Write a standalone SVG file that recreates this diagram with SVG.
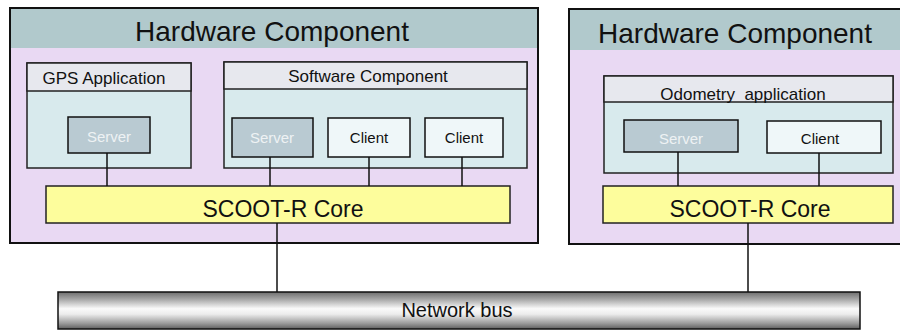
<svg xmlns="http://www.w3.org/2000/svg" width="900" height="330" viewBox="0 0 900 330">
<defs>
<linearGradient id="busGrad" x1="0" y1="0" x2="0" y2="1">
<stop offset="0" stop-color="#6e6e6e"/>
<stop offset="0.2" stop-color="#a8a8a8"/>
<stop offset="0.45" stop-color="#fafafa"/>
<stop offset="0.6" stop-color="#ececec"/>
<stop offset="0.85" stop-color="#9a9a9a"/>
<stop offset="1" stop-color="#5e5e5e"/>
</linearGradient>
<style>
text{font-family:"Liberation Sans",Arial,sans-serif;fill:#111;}
.hw{fill:#e9d9f3;stroke:#111;stroke-width:2;}
.hwhead{fill:#b1c9cc;}
.cont{fill:#d8eaed;stroke:#222;stroke-width:1.5;}
.conthead{fill:#e7e8ee;stroke:#222;stroke-width:1.5;}
.srv{fill:#b9cad2;stroke:#111;stroke-width:1.5;}
.cli{fill:#eff7f9;stroke:#111;stroke-width:1.5;}
.core{fill:#fdfd9c;stroke:#222;stroke-width:1.5;}
.bus{fill:url(#busGrad);stroke:#111;stroke-width:1.5;}
.t28{font-size:28px;}
.t17{font-size:17px;}
.t15{font-size:15px;}
.srvt{font-size:15px;fill:#eef2f4;}
.t23{font-size:23px;}
.t20{font-size:20px;}
.conn{stroke:#111;stroke-width:1.5;fill:none;}
</style>
</defs>

<g id="hw1">
<rect class="hw" x="10" y="8" width="528" height="235"/>
<rect class="hwhead" x="11" y="9" width="526" height="39"/>
<text class="t28" x="272" y="41" text-anchor="middle">Hardware Component</text>
</g>

<g id="hw2">
<rect class="hw" x="569" y="9" width="340" height="235"/>
<rect class="hwhead" x="570" y="10" width="338" height="40"/>
<text class="t28" x="735" y="43" text-anchor="middle">Hardware Component</text>
</g>

<g id="gps">
<rect class="cont" x="27" y="63" width="164" height="105"/>
<rect class="conthead" x="27" y="63" width="164" height="28"/>
<text class="t17" x="104" y="84" text-anchor="middle">GPS Application</text>
</g>

<g id="gpsServer">
<rect class="srv" x="68" y="117" width="82" height="36"/>
<text class="srvt" x="109" y="142" text-anchor="middle">Server</text>
</g>

<g id="sw">
<rect class="cont" x="224" y="62" width="303" height="106"/>
<rect class="conthead" x="224" y="62" width="303" height="27"/>
<text class="t17" x="368" y="82" text-anchor="middle">Software Component</text>
</g>

<g id="swServer">
<rect class="srv" x="232" y="118" width="81" height="39"/>
<text class="srvt" x="272" y="143" text-anchor="middle">Server</text>
</g>

<g id="swClient1">
<rect class="cli" x="328" y="118" width="82" height="39"/>
<text class="t15" x="369" y="143" text-anchor="middle">Client</text>
</g>

<g id="swClient2">
<rect class="cli" x="425" y="118" width="78" height="39"/>
<text class="t15" x="464" y="143" text-anchor="middle">Client</text>
</g>

<g id="core1">
<rect class="core" x="46" y="186" width="464" height="37"/>
<text class="t23" x="283" y="217" text-anchor="middle">SCOOT-R Core</text>
</g>

<g id="odo">
<rect class="cont" x="604" y="76" width="289" height="97"/>
<rect class="conthead" x="604" y="76" width="289" height="26"/>
<text class="t17" x="743" y="100" text-anchor="middle" xml:space="preserve">Odometry  application</text>
</g>

<g id="odoServer">
<rect class="srv" x="624" y="120" width="114" height="32"/>
<text class="srvt" x="681" y="144" text-anchor="middle">Server</text>
</g>

<g id="odoClient">
<rect class="cli" x="767" y="121" width="114" height="32"/>
<text class="t15" x="820" y="144" text-anchor="middle">Client</text>
</g>

<g id="core2">
<rect class="core" x="603" y="186" width="290" height="37"/>
<text class="t23" x="750" y="217" text-anchor="middle">SCOOT-R Core</text>
</g>

<g id="bus">
<rect class="bus" x="58" y="292" width="802" height="37"/>
<text class="t20" x="457" y="317" text-anchor="middle">Network bus</text>
</g>

<g id="connectors">
<line class="conn" x1="107" y1="153" x2="107" y2="186"/>
<line class="conn" x1="270" y1="157" x2="270" y2="186"/>
<line class="conn" x1="369" y1="157" x2="369" y2="186"/>
<line class="conn" x1="462" y1="157" x2="462" y2="186"/>
<line class="conn" x1="678" y1="152" x2="678" y2="186"/>
<line class="conn" x1="819" y1="153" x2="819" y2="186"/>
<line class="conn" x1="277" y1="223" x2="277" y2="292"/>
<line class="conn" x1="748" y1="223" x2="748" y2="292"/>
</g>
</svg>
